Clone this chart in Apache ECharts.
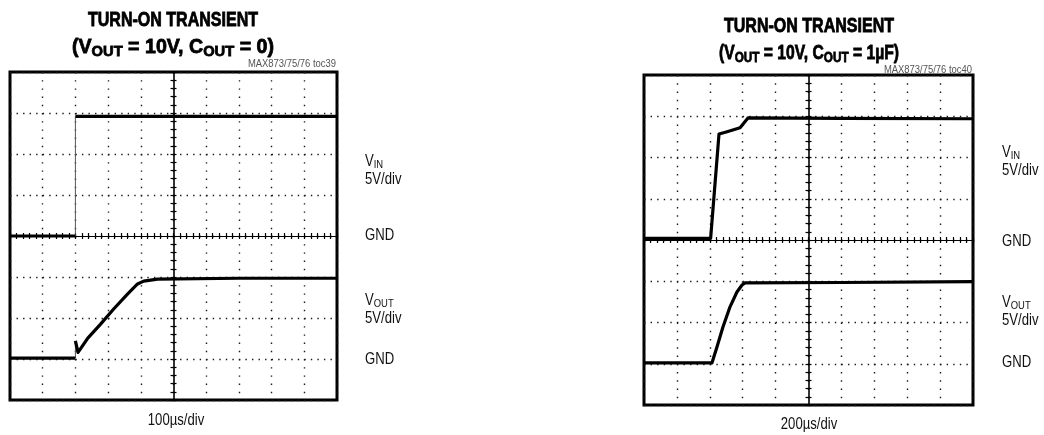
<!DOCTYPE html>
<html>
<head>
<meta charset="utf-8">
<script src="https://cdn.jsdelivr.net/npm/echarts@6/dist/echarts.min.js"></script>
<style>
  html, body { margin: 0; padding: 0; background: #fff; }
  #chart { width: 1044px; height: 435px; }
</style>
</head>
<body>
<div id="chart"></div>
<script>
// Vertical scale of both channels
const VOLTS_PER_DIV = 5;

// Left scope: 100 µs/div, COUT = 0
const leftTimeMax = 1000;                 // µs across 10 divisions
const leftVinTime  = [0, 200, 200, 1000];
const leftVinVolts = [0, 0, 14.6, 14.6];
const leftVoutTime  = [0, 200, 200, 208, 238, 277, 317, 360, 390, 409, 451, 700, 1000];
const leftVoutVolts = [0.1, 0.1, 2.2, 0.8, 2.55, 4.25, 6.1, 7.95, 9.15, 9.5, 9.75, 9.85, 9.85];

// Right scope: 200 µs/div, COUT = 1 µF
const rightTimeMax = 2000;
const rightVinTime  = [0, 405, 456, 500, 584, 632, 1200, 2000];
const rightVinVolts = [0.2, 0.2, 12.85, 13.1, 13.6, 14.8, 14.75, 14.7];
const rightVoutTime  = [0, 413, 444, 480, 523, 565, 596, 614, 1200, 2000];
const rightVoutVolts = [0.1, 0.1, 2.05, 4.45, 6.9, 8.7, 9.55, 9.8, 9.85, 9.95];

// Ground reference of each channel, in divisions from screen centre
const vinGroundDiv = 0;
const voutGroundDiv = -3;

// Text
const titleLine1 = 'TURN-ON TRANSIENT';
const leftCondition  = ['(V', 'OUT', ' = 10V, C', 'OUT', ' = 0)'];
const rightCondition = ['(V', 'OUT', ' = 10V, C', 'OUT', ' = 1µF)'];
const leftTag  = 'MAX873/75/76 toc39';
const rightTag = 'MAX873/75/76 toc40';
const leftTimebase  = '100µs/div';
const rightTimebase = '200µs/div';
const channelScale = '5V/div';

const SANS = '"Liberation Sans", Arial, Helvetica, sans-serif';
const NARROW_X = 0.82;   // horizontal squeeze giving a condensed face

const grids = [
  { left: 10,  top: 72, width: 327, height: 328 },
  { left: 644, top: 75, width: 329, height: 330 }
];

// Split a trace into the drawn body and its instantaneous (vertical) edges,
// which a scope paints much fainter than the slow parts.
function buildTrace(times, volts, groundDiv) {
  const body = [], edges = [];
  for (let i = 0; i < times.length; i++) {
    const p = [times[i], groundDiv + volts[i] / VOLTS_PER_DIV];
    if (i > 0 && times[i] === times[i - 1]) {
      const q = [times[i - 1], groundDiv + volts[i - 1] / VOLTS_PER_DIV];
      edges.push(q, p, [times[i], '-']);
      body.push([times[i], '-']);
    }
    body.push(p);
  }
  return { body, edges };
}

const xAxes = [], yAxes = [], series = [];

function addScope(g, tMax, traces) {
  const r = grids[g];
  const hPeriod = r.width / 50;   // dot pitch along horizontal graticule lines
  const vPeriod = r.height / 40;  // dot pitch along vertical graticule lines
  const tickLine = { color: '#000', width: 1.2 };
  const xBase = { gridIndex: g, type: 'value', min: 0, max: tMax, interval: tMax / 10,
                  axisLabel: { show: false } };
  const yBase = { gridIndex: g, type: 'value', min: -4, max: 4, interval: 1,
                  axisLabel: { show: false } };
  const xi = xAxes.length, yi = yAxes.length;

  // graticule
  xAxes.push(Object.assign({}, xBase, {
    axisLine: { show: false, onZero: false }, axisTick: { show: false },
    splitLine: { show: true, lineStyle: { color: '#1a1a1a', width: 1.4, type: [1.4, vPeriod - 1.4] } }
  }));
  yAxes.push(Object.assign({}, yBase, {
    axisLine: { show: false, onZero: false }, axisTick: { show: false },
    splitLine: { show: true, lineStyle: { color: '#1a1a1a', width: 1.4, type: [1.4, hPeriod - 1.4] } }
  }));

  // centre cross-hair with sub-division ticks on both sides
  ['bottom', 'top'].forEach(function (pos, k) {
    xAxes.push(Object.assign({}, xBase, {
      position: pos, offset: -r.height / 2,
      axisLine: { show: k === 0, onZero: false, lineStyle: { color: '#000', width: 1.2 } },
      axisTick: { show: true, length: 3, lineStyle: tickLine },
      minorTick: { show: true, splitNumber: 5, length: 3, lineStyle: tickLine },
      splitLine: { show: false }
    }));
  });
  ['left', 'right'].forEach(function (pos, k) {
    yAxes.push(Object.assign({}, yBase, {
      position: pos, offset: -r.width / 2,
      axisLine: { show: k === 0, onZero: false, lineStyle: { color: '#000', width: 1.6 } },
      axisTick: { show: true, length: 3, lineStyle: tickLine },
      minorTick: { show: true, splitNumber: 5, length: 3, lineStyle: tickLine },
      splitLine: { show: false }
    }));
  });

  traces.forEach(function (tr) {
    series.push({
      type: 'line', xAxisIndex: xi, yAxisIndex: yi, data: tr.body,
      showSymbol: false, symbol: 'none', silent: true, z: 5,
      lineStyle: { color: '#000', width: 3.2, join: 'round' }
    });
    if (tr.edges.length) {
      series.push({
        type: 'line', xAxisIndex: xi, yAxisIndex: yi, data: tr.edges,
        showSymbol: false, symbol: 'none', silent: true, z: 4,
        lineStyle: { color: '#555', width: 1 }
      });
    }
  });
}

addScope(0, leftTimeMax, [
  buildTrace(leftVinTime, leftVinVolts, vinGroundDiv),
  buildTrace(leftVoutTime, leftVoutVolts, voutGroundDiv)
]);
addScope(1, rightTimeMax, [
  buildTrace(rightVinTime, rightVinVolts, vinGroundDiv),
  buildTrace(rightVoutTime, rightVoutVolts, voutGroundDiv)
]);

// ---- text ----
const TITLE_SIZE = 20, TITLE_SUB = 15;
const HEAVY = { stroke: '#000', lineWidth: 0.8 };   // thickens the bold heading strokes
const titleRich = {
  m: Object.assign({ fontSize: TITLE_SIZE, fontWeight: 'bold', fontFamily: SANS, lineHeight: 24, fill: '#000' }, HEAVY),
  s: Object.assign({ fontSize: TITLE_SUB, fontWeight: 'bold', fontFamily: SANS, lineHeight: 18, verticalAlign: 'bottom', fill: '#000' }, HEAVY)
};
const labelRich = {
  m: { fontSize: 16, fontFamily: SANS, lineHeight: 18, fill: '#111' },
  s: { fontSize: 11.5, fontFamily: SANS, lineHeight: 13, verticalAlign: 'bottom', fill: '#111' }
};

const measureCtx = document.createElement('canvas').getContext('2d');
function textWidth(parts, sizes) {
  let w = 0;
  parts.forEach(function (p, i) {
    measureCtx.font = 'bold ' + sizes[i % 2] + 'px ' + SANS;
    w += measureCtx.measureText(p).width;
  });
  return w;
}
// squeeze factor so a bold heading spans the wanted width
function squeezeTo(parts, width) {
  return width / textWidth(parts, [TITLE_SIZE, TITLE_SUB]);
}

function richLine(parts) {
  return parts.map(function (p, i) { return '{' + (i % 2 ? 's' : 'm') + '|' + p + '}'; }).join('');
}
function text(x, y, str, opts, sx) {
  return { type: 'text', x: x, y: y, scaleX: sx || NARROW_X, silent: true,
           style: Object.assign({ text: str, fill: '#111', align: 'left', verticalAlign: 'middle' }, opts) };
}

function scopeTexts(cx, yTitle, condParts, condWidth, tag, tagX, tagY, timebase, timeX, yTime, labelX, ys) {
  const plain = { fontSize: 16, fontFamily: SANS };
  return [
    text(cx, yTitle, titleLine1, Object.assign({ align: 'center', fill: '#000',
      fontSize: TITLE_SIZE, fontWeight: 'bold', fontFamily: SANS }, HEAVY), squeezeTo([titleLine1], 170)),
    text(cx, yTitle + 27, richLine(condParts), { align: 'center', rich: titleRich },
      squeezeTo(condParts, condWidth)),
    text(tagX, tagY, tag, { align: 'right', fill: '#555', fontSize: 11.5, fontFamily: SANS }),
    text(timeX, yTime, timebase, Object.assign({ align: 'center' }, plain)),
    text(labelX, ys[0], richLine(['V', 'IN']), { rich: labelRich }),
    text(labelX, ys[1], channelScale, plain),
    text(labelX, ys[2], 'GND', plain),
    text(labelX, ys[3], richLine(['V', 'OUT']), { rich: labelRich }),
    text(labelX, ys[4], channelScale, plain),
    text(labelX, ys[5], 'GND', plain)
  ];
}

const graphics = [].concat(
  scopeTexts(173, 20, leftCondition, 202, leftTag, 336, 64, leftTimebase, 176, 421, 365,
             [162, 180, 236, 301, 319, 360]),
  scopeTexts(809, 26, rightCondition, 180, rightTag, 972, 70, rightTimebase, 809, 425, 1002,
             [153, 171, 242, 303, 321, 363])
);

const chart = echarts.init(document.getElementById('chart'), null, { renderer: 'canvas' });
chart.setOption({
  animation: false,
  backgroundColor: '#fff',
  grid: grids.map(function (r) {
    return Object.assign({ show: true, borderColor: '#000', borderWidth: 3,
                           backgroundColor: 'transparent', containLabel: false,
                           outerBoundsMode: 'none' }, r);
  }),
  xAxis: xAxes,
  yAxis: yAxes,
  series: series,
  graphic: graphics
});
</script>
</body>
</html>
